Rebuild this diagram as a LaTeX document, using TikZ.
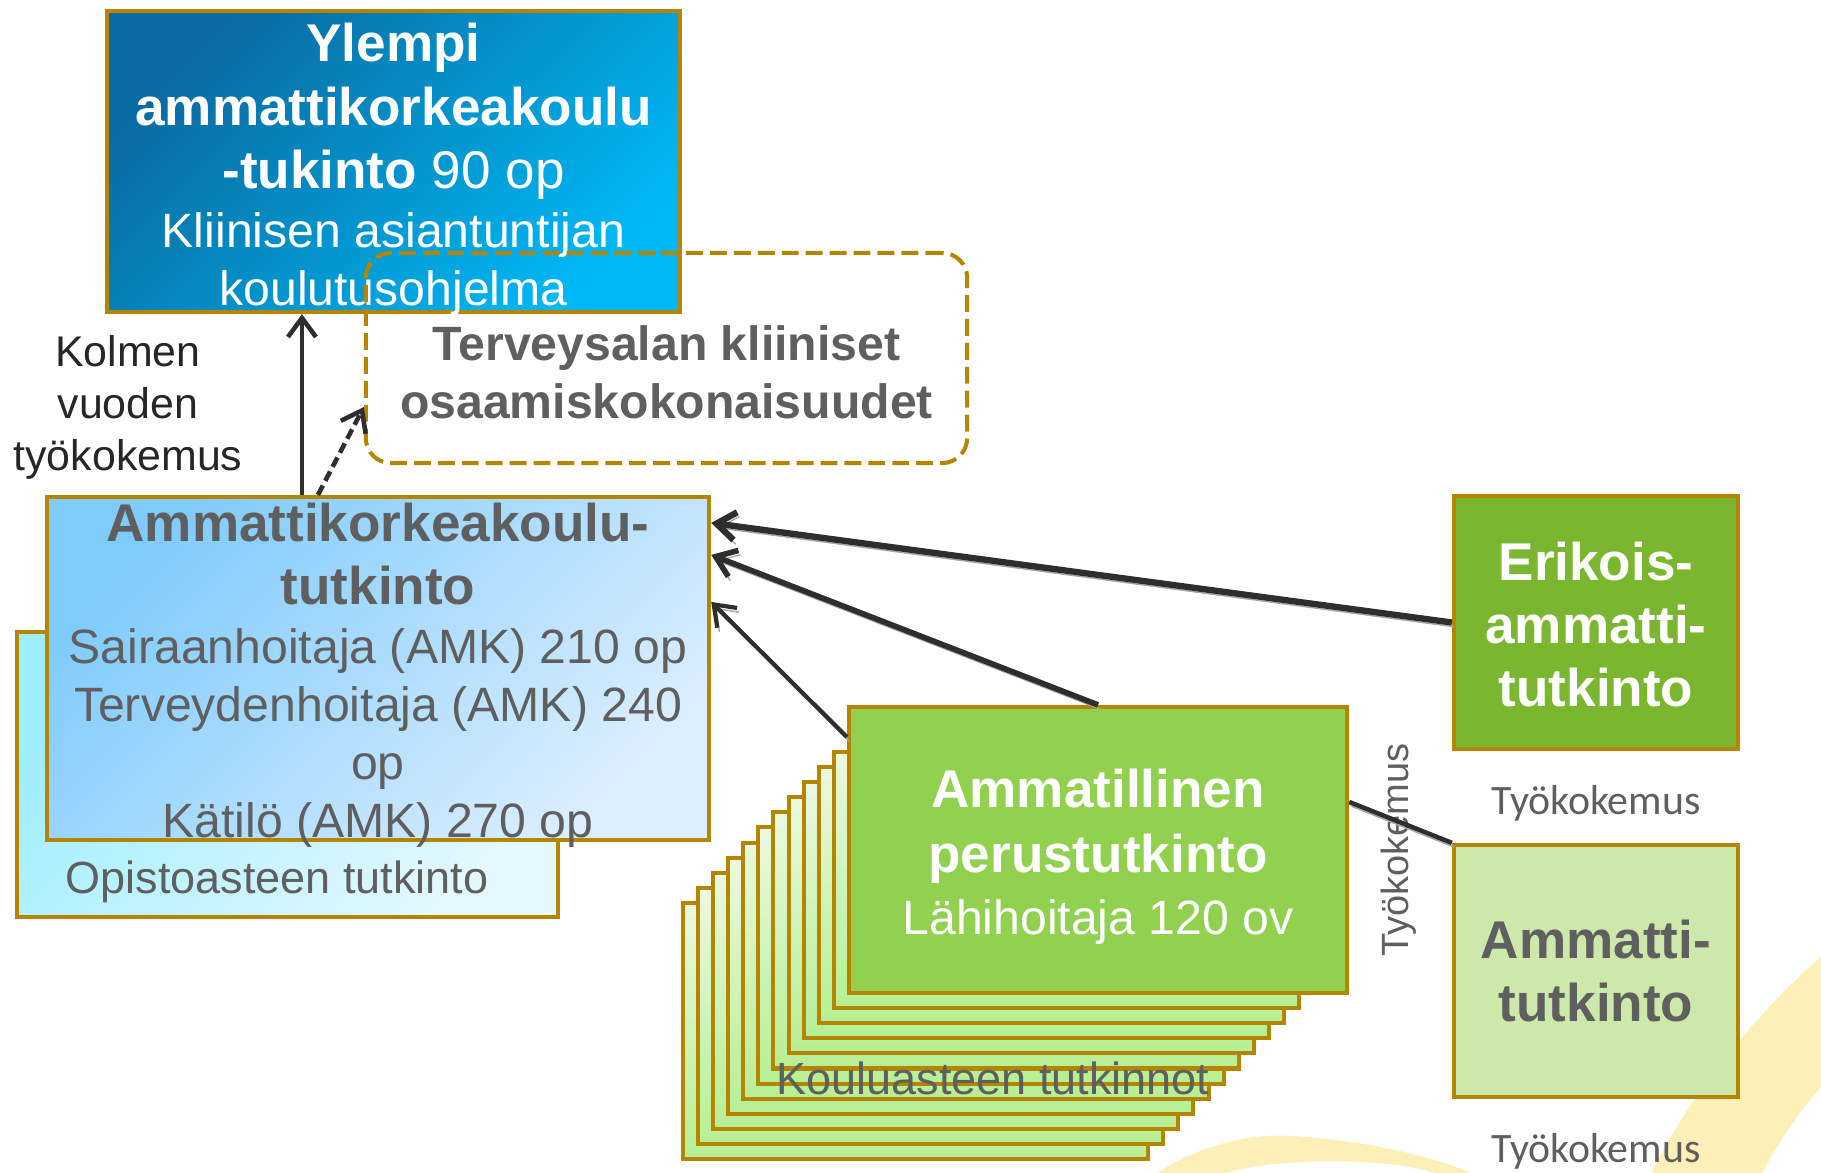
\documentclass[tikz,border=0pt]{standalone}
\usepackage{fontspec}
\setmainfont{Liberation Sans}
\newfontfamily\calibrifont{Carlito}
\usepackage{tikz}
\usetikzlibrary{arrows.meta}
\usetikzlibrary{positioning}
\usepackage{xcolor}

\definecolor{rim}{HTML}{B58400}
\definecolor{greytext}{HTML}{5F5F5F}
\definecolor{darktext}{HTML}{262626}
\definecolor{arrowc}{HTML}{2E2E2E}
\definecolor{ylempiA}{HTML}{0A6BA0}
\definecolor{ylempiB}{HTML}{00B8F5}
\definecolor{amkA}{HTML}{7FCBFC}
\definecolor{amkB}{HTML}{DCEEFF}
\definecolor{opistoA}{HTML}{9EEEFF}
\definecolor{opistoB}{HTML}{E4F8FF}
\definecolor{stackA}{HTML}{EAF9DF}
\definecolor{stackB}{HTML}{B6EF94}
\definecolor{perusgreen}{HTML}{92D050}
\definecolor{erikoisgreen}{HTML}{7AB630}
\definecolor{ammattigreen}{HTML}{CCE8AA}
\definecolor{swoosh}{HTML}{FCF0B8}

\newcommand{\boldbig}{\fontsize{15.1pt}{18pt}\selectfont\bfseries}
\newcommand{\sizebig}{\fontsize{15.1pt}{18pt}\selectfont}
\newcommand{\plainbig}{\fontsize{13.7pt}{16.5pt}\selectfont}
\newcommand{\plainmid}{\fontsize{12.8pt}{15pt}\selectfont}
\newcommand{\topgap}[1]{\rule{0pt}{#1}}

\tikzset{
	box/.style={rectangle, draw=rim, line width=1.15pt, inner sep=0pt, align=center},
	stackbox/.style={box, top color=stackA, bottom color=stackB, minimum width=4.65cm, minimum height=2.56cm},
	arrowline/.style={-{Straight Barb[length=1.9mm,width=2.8mm]}, draw=arrowc, line width=1.3pt},
	plainline/.style={draw=arrowc, line width=1.3pt},
	shadowline/.style={preaction={draw=black!35, transform canvas={shift={(0.6pt,-1.2pt)}}}},
	worktext/.style={font=\calibrifont\fontsize{11.9pt}{14pt}\selectfont, text=greytext},
}

\begin{document}
\begin{tikzpicture}[x=0.01cm, y=-0.01cm]
	\useasboundingbox (0,0) rectangle (1821,1173);
	\fill[swoosh] (1821,957) .. controls (1770,1000) and (1690,1090) .. (1652,1173) -- (1762,1173) .. controls (1780,1140) and (1800,1110) .. (1821,1087) -- cycle;
	\fill[swoosh] (1157,1173) .. controls (1200,1145) and (1250,1133) .. (1293,1136) .. controls (1360,1140) and (1430,1155) .. (1471,1173) -- (1434,1173) .. controls (1400,1160) and (1290,1155) .. (1225,1173) -- cycle;

	\node[box, minimum width=5.73cm, minimum height=3.01cm, top color=ylempiA, bottom color=ylempiB, shading angle=45] (Ylempi) at (393.5,161.5) {};
	\node[align=center, inner sep=0pt, text=white, font=\plainbig] (YlempiText) at ([yshift=-0.08cm]Ylempi.center) {{\boldbig Ylempi}\\[1.5pt]{\boldbig ammattikorkeakoulu}\\[1.6pt]{\boldbig -tukinto}{\sizebig\ 90 op}\\[0.3pt]Kliinisen asiantuntijan\\koulutusohjelma};
	\node[box, dash pattern=on 4.8pt off 2pt, rounded corners=0.25cm, minimum width=6.01cm, minimum height=2.10cm, text=greytext, font=\plainbig\bfseries] (Osaamis) at (666.5,358) {\topgap{18pt}Terveysalan kliiniset\\osaamiskokonaisuudet};
	\node[text=darktext, font=\fontsize{12.2pt}{14.8pt}\selectfont, align=center] (Kolmen) at (128,404) {\topgap{10.9pt}Kolmen\\vuoden\\työkokemus};

	\node[box, minimum width=5.41cm, minimum height=2.85cm, top color=opistoA, bottom color=opistoB, shading angle=45] (Opisto) at (287.5,774.5) {};
	\node[text=greytext, font=\plainmid] (OpistoText) at (277,882) {Opistoasteen tutkinto};
	\node[box, minimum width=6.62cm, minimum height=3.43cm, top color=amkA, bottom color=amkB, shading angle=45] (Amk) at (378,668.5) {};
	\node[align=center, inner sep=0pt, text=greytext, font=\plainbig] (AmkText) at ([yshift=-0.07cm]Amk.center) {{\boldbig Ammattikorkeakoulu-}\\[1.4pt]{\boldbig tutkinto}\\[0.3pt]Sairaanhoitaja (AMK) 210 op\\Terveydenhoitaja (AMK) 240\\op\\Kätilö (AMK) 270 op};

	\foreach \i in {0,...,10}
		\node[stackbox] (Koulu\i) at (915.5+15.1*\i,1031-15.1*\i) {};
	\node[box, minimum width=4.98cm, minimum height=2.86cm, fill=perusgreen, text=white, font=\plainbig] (Perus) at (1098,850) {\topgap{14.8pt}{\boldbig Ammatillinen}\\[2pt]{\boldbig perustutkinto}\\[0.9pt]Lähihoitaja 120 ov};
	\node[text=greytext, font=\plainmid] (KouluText) at (993,1078) {Kouluasteen tutkinnot};

	\node[box, minimum width=2.84cm, minimum height=2.53cm, fill=erikoisgreen, text=white, font=\boldbig] (Erikois) at (1596,622.5) {\topgap{12.1pt}Erikois-\\ammatti-\\tutkinto};
	\node[box, minimum width=2.84cm, minimum height=2.52cm, fill=ammattigreen, text=greytext, font=\boldbig] (Ammatti) at (1596,971) {Ammatti-\\tutkinto};
	\node[worktext] (TyoErikois) at (1596,803) {Työkokemus};
	\node[worktext] (TyoAmmatti) at (1596,1151) {Työkokemus};
	\node[text=greytext, font=\fontsize{10.8pt}{13pt}\selectfont, rotate=90] (TyoPerus) at (1399,850) {Työkokemus};

	\draw[arrowline] ([xshift=-0.76cm]Amk.north) -- ([xshift=-0.76cm]Amk.north |- Ylempi.south);
	\draw[arrowline, dash pattern=on 3pt off 1.5pt] ([xshift=-0.6cm]Amk.north) -- ([yshift=-0.49cm]Osaamis.west);
	\draw[arrowline, shadowline, line width=1.8pt] (Erikois.west) -- ([yshift=-0.28cm]Amk.north east);
	\draw[arrowline, shadowline, line width=1.6pt] (Perus.north) -- ([yshift=-0.6cm]Amk.north east);
	\draw[arrowline, shadowline, line width=1.2pt] ([yshift=-0.32cm]Perus.north west) -- ([yshift=-1.07cm]Amk.north east);
	\draw[plainline, shadowline] ([yshift=-0.97cm]Perus.north east) -- (Ammatti.north west);
\end{tikzpicture}
\end{document}
